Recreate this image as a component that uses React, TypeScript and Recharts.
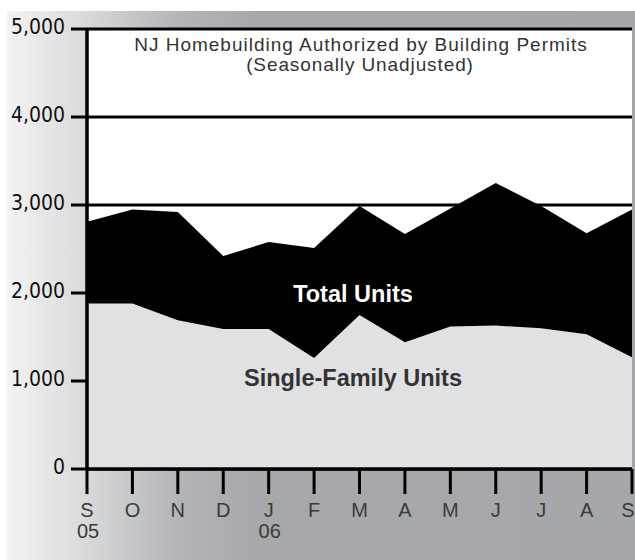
import { ComposedChart, Area, XAxis, YAxis, CartesianGrid } from "recharts"

// Sep 2005 .. Sep 2006
const months = ["S", "O", "N", "D", "J", "F", "M", "A", "M", "J", "J", "A", "S"]
const years = ["05", "", "", "", "06", "", "", "", "", "", "", "", ""]
const totalUnits = [2810, 2950, 2920, 2420, 2580, 2510, 2990, 2670, 2960, 3250, 2990, 2680, 2950]
const singleFamily = [1880, 1880, 1690, 1590, 1590, 1260, 1750, 1440, 1620, 1630, 1600, 1530, 1270]
const yTicks = [0, 1000, 2000, 3000, 4000, 5000]

const data = months.map((m, i) => ({
  key: `${m}${i}`,
  total: totalUnits[i],
  single: singleFamily[i],
}))

const SANS = "'Liberation Sans', Arial, sans-serif"
const NARROW = "'Liberation Sans Narrow', 'DejaVu Sans Condensed', sans-serif"

function MonthTick({ x, y, payload }: any) {
  const i = payload.index
  // last label sits on the right edge, nudge it in a little
  const lx = i === months.length - 1 ? x - 4 : x
  return (
    <g>
      <text x={lx} y={y + 21} textAnchor="middle" fontSize={20} fontFamily={SANS} fill="#3a3a3a">
        {months[i]}
      </text>
      {years[i] && (
        <text x={x + 1} y={y + 42} textAnchor="middle" fontSize={20} fontFamily={SANS} fill="#3a3a3a">
          {years[i]}
        </text>
      )}
    </g>
  )
}

export default function App() {
  return (
    // fixed so the page never gets scrollbars
    <div style={{ position: "fixed", left: 0, top: 0, width: 635, height: 560, overflow: "hidden" }}>
      {/* gray gradient panel behind the chart */}
      <div
        style={{
          position: "absolute",
          left: 7,
          top: 11,
          width: 628,
          height: 549,
          background: "linear-gradient(to right, #f3f3f3 0px, #d8d9db 80px, #b4b5b8 170px, #a7a8ab 250px, #a6a7aa 100%)",
        }}
      />
      <div style={{ position: "absolute", left: 0, top: 0 }}>
        <ComposedChart width={635} height={560} data={data} margin={{ top: 29, right: 3, bottom: 31, left: 7 }}>
          <CartesianGrid vertical={false} stroke="#000" strokeWidth={3} fill="#fff" fillOpacity={1} />
          <XAxis
            dataKey="key"
            scale="point"
            height={60}
            interval={0}
            tickSize={25}
            axisLine={{ stroke: "#000", strokeWidth: 3.5 }}
            tickLine={{ stroke: "#000", strokeWidth: 3 }}
            tick={<MonthTick />}
          />
          <YAxis
            width={80}
            domain={[0, 5000]}
            ticks={yTicks}
            interval={0}
            tickSize={16}
            tickMargin={6}
            axisLine={{ stroke: "#000", strokeWidth: 3.5 }}
            tickLine={{ stroke: "#000", strokeWidth: 3 }}
            tickFormatter={(v: number) => v.toLocaleString("en-US")}
            tick={{ fill: "#111", fontSize: 21, fontFamily: NARROW, dy: -2 }}
          />
          {/* right-hand frame line */}
          <YAxis
            yAxisId="frame"
            orientation="right"
            width={0}
            domain={[0, 5000]}
            tick={false}
            tickLine={false}
            axisLine={{ stroke: "#000", strokeWidth: 3 }}
          />
          <Area
            type="linear"
            dataKey="total"
            fill="#000"
            fillOpacity={1}
            stroke="none"
            isAnimationActive={false}
          />
          <Area
            type="linear"
            dataKey="single"
            fill="#e0e1e3"
            fillOpacity={1}
            stroke="none"
            isAnimationActive={false}
          />
          <text x={361} y={51} textAnchor="middle" fontSize={19} letterSpacing={1} fontFamily={SANS} fill="#333">
            NJ Homebuilding Authorized by Building Permits
          </text>
          <text x={360} y={71} textAnchor="middle" fontSize={19} letterSpacing={0.9} fontFamily={SANS} fill="#333">
            (Seasonally Unadjusted)
          </text>
        </ComposedChart>
      </div>
      {/* series labels drawn above the filled areas */}
      <svg width={635} height={560} style={{ position: "absolute", left: 0, top: 0, pointerEvents: "none" }}>
        <text x={353} y={302} textAnchor="middle" fontSize={23.5} fontWeight="bold" fontFamily={SANS} fill="#fff">
          Total Units
        </text>
        <text x={353} y={386} textAnchor="middle" fontSize={23.5} fontWeight="bold" fontFamily={SANS} fill="#333">
          Single-Family Units
        </text>
      </svg>
    </div>
  )
}
